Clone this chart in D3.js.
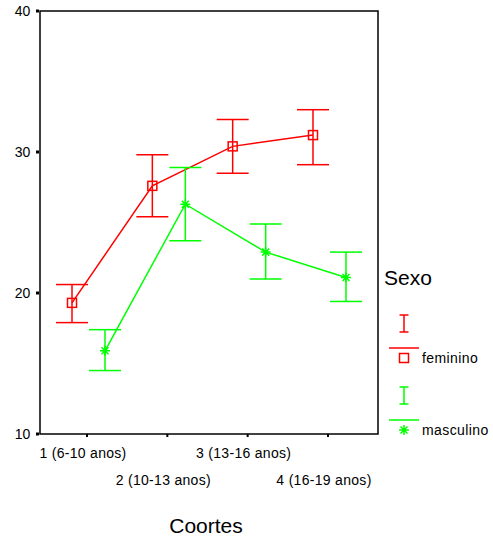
<!DOCTYPE html>
<html>
<head>
<meta charset="utf-8">
<script src="https://cdn.jsdelivr.net/npm/d3@7"></script>
<style>
  html, body { margin: 0; padding: 0; background: #fff; }
  svg { display: block; font-family: "Liberation Sans", Arial, sans-serif; }
</style>
</head>
<body>
<svg id="chart" width="493" height="538"></svg>
<script>
// Cohorts on the x axis
const categories = ["1 (6-10 anos)", "2 (10-13 anos)", "3 (13-16 anos)", "4 (16-19 anos)"];
const yTicks = [10, 20, 30, 40];

// Means and error-bar limits per sex
const femininoMean  = [19.3, 27.6, 30.4, 31.2];
const femininoLow   = [17.9, 25.4, 28.5, 29.1];
const femininoHigh  = [20.6, 29.8, 32.3, 33.0];
const masculinoMean = [15.9, 26.3, 22.9, 21.1];
const masculinoLow  = [14.5, 23.7, 21.0, 19.4];
const masculinoHigh = [17.4, 28.9, 24.9, 22.9];

const series = [
  { name: "feminino",  color: "#ff0000", marker: "square",   offset: -15,
    mean: femininoMean, low: femininoLow, high: femininoHigh },
  { name: "masculino", color: "#00ff00", marker: "asterisk", offset: 18,
    mean: masculinoMean, low: masculinoLow, high: masculinoHigh }
];

const svg = d3.select("#chart");
const frame = { left: 40, top: 11, right: 378, bottom: 434 };

const x = d3.scalePoint().domain(categories).range([87, 328]);
const y = d3.scaleLinear().domain([10, 40]).range([frame.bottom, frame.top]);

// plot frame
svg.append("rect")
  .attr("x", frame.left).attr("y", frame.top)
  .attr("width", frame.right - frame.left).attr("height", frame.bottom - frame.top)
  .attr("fill", "none").attr("stroke", "#000").attr("stroke-width", 1.5);

// y axis ticks and labels
const yAxis = svg.append("g");
yAxis.selectAll("rect.tick").data(yTicks).join("rect")
  .attr("x", frame.left - 4).attr("y", d => y(d) - 1.5)
  .attr("width", 3).attr("height", 3).attr("fill", "#000");
yAxis.selectAll("text").data(yTicks).join("text")
  .attr("x", 30).attr("y", d => y(d) + 5)
  .attr("text-anchor", "end").attr("font-size", 14).attr("letter-spacing", -0.2)
  .text(d => d);

// x axis ticks and staggered labels
const xAxis = svg.append("g");
xAxis.selectAll("line").data(categories).join("line")
  .attr("x1", d => x(d)).attr("x2", d => x(d))
  .attr("y1", frame.bottom).attr("y2", frame.bottom + 3)
  .attr("stroke", "#000").attr("stroke-width", 2);
xAxis.selectAll("text").data(categories).join("text")
  .attr("x", d => x(d) - 4)
  .attr("y", (d, i) => i % 2 === 0 ? 458 : 485)
  .attr("text-anchor", "middle").attr("font-size", 14).attr("letter-spacing", 0.3)
  .text(d => d);

svg.append("text")
  .attr("x", 206).attr("y", 533).attr("text-anchor", "middle")
  .attr("font-size", 21).text("Coortes");

function drawMarker(g, kind, color, cx, cy) {
  if (kind === "square") {
    g.append("rect").attr("x", cx - 4.5).attr("y", cy - 4.5)
      .attr("width", 9).attr("height", 9)
      .attr("fill", "none").attr("stroke", color).attr("stroke-width", 1.5);
  } else {
    const r = 5;
    const path = d3.path();
    path.moveTo(cx - r, cy); path.lineTo(cx + r, cy);
    path.moveTo(cx, cy - r); path.lineTo(cx, cy + r);
    path.moveTo(cx - r * 0.7, cy - r * 0.7); path.lineTo(cx + r * 0.7, cy + r * 0.7);
    path.moveTo(cx - r * 0.7, cy + r * 0.7); path.lineTo(cx + r * 0.7, cy - r * 0.7);
    g.append("path").attr("d", path.toString())
      .attr("stroke", color).attr("stroke-width", 1.5).attr("fill", "none");
  }
}

const capHalf = 16;
series.forEach(s => {
  const g = svg.append("g");
  const px = i => x(categories[i]) + s.offset;
  // error bars
  categories.forEach((c, i) => {
    const cx = px(i);
    g.append("line").attr("x1", cx).attr("x2", cx)
      .attr("y1", y(s.low[i])).attr("y2", y(s.high[i]))
      .attr("stroke", s.color).attr("stroke-width", 1.5);
    [s.low[i], s.high[i]].forEach(v => {
      g.append("line").attr("x1", cx - capHalf).attr("x2", cx + capHalf)
        .attr("y1", y(v)).attr("y2", y(v))
        .attr("stroke", s.color).attr("stroke-width", 1.5);
    });
  });
  // mean line
  const line = d3.line().x((d, i) => px(i)).y(d => y(d));
  g.append("path").attr("d", line(s.mean))
    .attr("fill", "none").attr("stroke", s.color).attr("stroke-width", 1.5);
  s.mean.forEach((v, i) => drawMarker(g, s.marker, s.color, px(i), y(v)));
});

// legend
const legend = svg.append("g");
legend.append("text").attr("x", 384).attr("y", 285).attr("font-size", 21).text("Sexo");
series.forEach((s, k) => {
  const base = 315 + k * 72;
  const cx = 404;
  const lg = legend.append("g");
  // error-bar symbol
  lg.append("line").attr("x1", cx).attr("x2", cx).attr("y1", base).attr("y2", base + 17)
    .attr("stroke", s.color).attr("stroke-width", 1.5);
  [base, base + 17].forEach(yy => lg.append("line")
    .attr("x1", cx - 4.5).attr("x2", cx + 4.5).attr("y1", yy).attr("y2", yy)
    .attr("stroke", s.color).attr("stroke-width", 1.5));
  // line symbol
  lg.append("line").attr("x1", 389).attr("x2", 419).attr("y1", base + 33).attr("y2", base + 33)
    .attr("stroke", s.color).attr("stroke-width", 1.5);
  drawMarker(lg, s.marker, s.color, cx, base + 43);
  lg.append("text").attr("x", 422).attr("y", base + 48)
    .attr("font-size", 14).attr("letter-spacing", 0.4).text(s.name);
});
</script>
</body>
</html>
